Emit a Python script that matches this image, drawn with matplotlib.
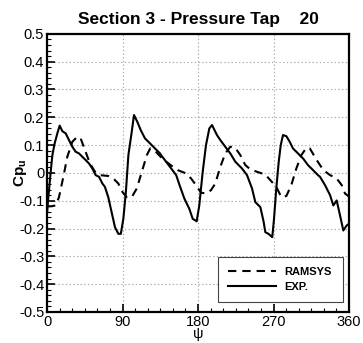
import matplotlib
matplotlib.use("Agg")
import matplotlib.pyplot as plt
from matplotlib.ticker import MultipleLocator

plt.rcParams['font.family'] = ['Liberation Sans', 'DejaVu Sans']
plt.rcParams['lines.scale_dashes'] = False

# experiment (solid)
psi_exp = [0, 1.2, 4.4, 6.4, 9.1, 12.3, 15.1, 18.3, 22.3, 26.2, 30.2, 34.2, 38.1, 42.1, 46.1, 50, 54, 58,
           62, 66, 69, 73, 77, 81, 85, 88, 91, 94, 97, 101, 103.7, 107.6, 111.7, 116.8, 122.8, 128.7,
           134.7, 136, 142, 148, 154, 158, 163.7, 169.6, 173.7, 178.4, 181.5, 185.6, 189.5, 193.5, 196.7,
           202.6, 206.6, 212.5, 218.5, 224.5, 232.4, 238.4, 244.4, 248.3, 254.3, 258.3, 260.2, 264,
           268.5, 270.6, 273.3, 276.2, 278.6, 281.3, 285.3, 289.3, 293.2, 299.2, 305.2, 311.1, 317.1, 323,
           325.4, 331.4, 337.4, 341.3, 345.3, 349.3, 353.2, 357.2, 360]
cp_exp = [-0.147, -0.1, 0.004, 0.064, 0.106, 0.142, 0.17, 0.15, 0.142, 0.118, 0.094, 0.076, 0.07, 0.058,
          0.046, 0.034, 0.016, -0.008,
          -0.014, -0.038, -0.05, -0.087, -0.141, -0.195, -0.219, -0.219, -0.165, -0.069, 0.064, 0.148,
          0.208, 0.184, 0.154, 0.124, 0.106, 0.088,
          0.07, 0.064, 0.04, 0.016, -0.008, -0.044, -0.092, -0.129, -0.165, -0.174, -0.117, 0.004, 0.1,
          0.16, 0.172,
          0.136, 0.118, 0.094, 0.07, 0.04, 0.016, -0.008, -0.056, -0.105, -0.123, -0.177, -0.213, -0.219,
          -0.231, -0.165, -0.056, 0.04, 0.1, 0.136, 0.132, 0.112, 0.088, 0.07, 0.052, 0.028, 0.01, -0.008,
          -0.014, -0.044, -0.08, -0.117, -0.099, -0.153, -0.207, -0.189, -0.183]

# RAMSYS prediction (dashed)
psi_ram = [0, 5, 10.3, 14.3, 19.5, 24.2, 30.2, 36.1, 40.1, 46, 51, 57, 63, 73, 79, 85, 90, 95, 101, 107,
           113, 119, 123, 130, 138, 150, 155.8, 166, 171.7, 177.6, 183.6, 189.5, 195.5, 200.6, 206.6,
           212.5, 218.5, 224.5, 230.4, 236.4, 242.3, 250.3, 260.2, 266.2, 273.3, 279.3, 285.3, 291.2,
           297.2, 303.2, 309.1, 313.3, 321.5, 329.4, 337.4, 345.3, 351.3, 355.2, 360]
cp_ram = [-0.12, -0.12, -0.117, -0.087, -0.014, 0.058, 0.112, 0.13, 0.124, 0.076, 0.035, 0.005, -0.008,
          -0.011, -0.02, -0.038, -0.069, -0.087, -0.087, -0.056, 0.004, 0.064, 0.088, 0.075, 0.05, 0.022,
          0.01, -0.002, -0.02, -0.044, -0.071, -0.074, -0.062, -0.038, 0.022, 0.07, 0.094, 0.09, 0.064,
          0.028, 0.013, 0.004, -0.006, -0.026, -0.05, -0.087, -0.083, -0.044, 0.016, 0.064, 0.09, 0.088,
          0.046, 0.01, -0.008, -0.02, -0.044, -0.074, -0.085]

fig = plt.figure(figsize=(3.63, 3.43), dpi=100)
ax = fig.add_axes([0.1295, 0.0904, 0.832, 0.811])

ax.plot(psi_ram, cp_ram, color='black', lw=1.5, dashes=(6, 4.3), label='RAMSYS')
ax.plot(psi_exp, cp_exp, color='black', lw=1.5, label='EXP.')

ax.set_xlim(0, 360)
ax.set_ylim(-0.5, 0.5)
ax.xaxis.set_major_locator(MultipleLocator(90))
ax.xaxis.set_minor_locator(MultipleLocator(15))
ax.yaxis.set_minor_locator(MultipleLocator(0.02))
ax.set_yticks([-0.5, -0.4, -0.3, -0.2, -0.1, 0, 0.1, 0.2, 0.3, 0.4, 0.5])
ax.set_yticklabels(['-0.5', '-0.4', '-0.3', '-0.2', '-0.1', '0', '0.1', '0.2', '0.3', '0.4', '0.5'])
ax.tick_params(which='major', direction='in', length=6, width=1.2, labelsize=10.5, pad=2)
ax.tick_params(which='minor', direction='in', length=3, width=0.8)
ax.grid(True, which='major', color='#aaaaaa', linestyle=':', linewidth=0.8)
for s in ax.spines.values():
    s.set_linewidth(1.6)

ax.set_title('Section 3 - Pressure Tap    20', fontsize=12.5, fontweight='bold', pad=7)
ax.set_ylabel(r'Cp$_\mathregular{u}$', fontsize=11, fontweight='bold')
ax.yaxis.set_label_coords(-0.06, 0.5)
ax.set_xlabel('ψ', fontsize=10.5, labelpad=-1)

leg = ax.legend(loc='center', bbox_to_anchor=(0.566, 0.029, 0.414, 0.173), mode='expand',
                borderaxespad=0, fancybox=False, framealpha=1, edgecolor='#444444', handlelength=4.3,
                prop={'weight': 'bold', 'size': 8}, borderpad=0.9, labelspacing=0.45)
leg.get_frame().set_linewidth(0.8)

fig.savefig('out.png', dpi=100)
